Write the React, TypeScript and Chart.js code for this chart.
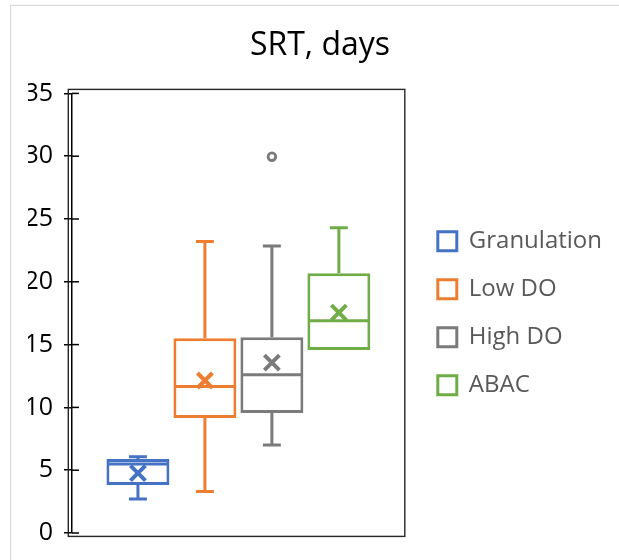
import React, { useEffect, useRef } from 'react';
import { Chart, registerables } from 'chart.js';

Chart.register(...registerables);

const titleText = 'SRT, days';
const categories = ['Granulation', 'Low DO', 'High DO', 'ABAC'];
const minValues = [2.7, 3.3, 7.0, 14.58];
const q1Values = [3.82, 9.15, 9.55, 14.58];
const medianValues = [5.5, 11.66, 12.59, 16.89];
const q3Values = [5.89, 15.5, 15.59, 20.68];
const maxValues = [6.07, 23.2, 22.85, 24.3];
const meanValues = [4.77, 12.14, 13.57, 17.55];
const outlierValues: number[][] = [[], [], [29.96], []];
const seriesColors = ['#4472C4', '#ED7D31', '#7B7B7B', '#70AD47'];
const yMin = 0;
const yMax = 35;
const yStep = 5;

const boxPlugin = {
  id: 'boxExtras',
  beforeDraw(chart: any) {
    const ctx = chart.ctx;
    ctx.save();
    ctx.fillStyle = '#ffffff';
    ctx.fillRect(0, 0, chart.width, chart.height);
    ctx.strokeStyle = '#d9d9d9';
    ctx.lineWidth = 1.2;
    ctx.strokeRect(10.6, 5.4, chart.width + 40, chart.height + 40);
    ctx.restore();
  },
  afterDatasetsDraw(chart: any) {
    const ctx = chart.ctx;
    const ys = chart.scales.y;
    chart.data.datasets.forEach((ds: any, i: number) => {
      const meta = chart.getDatasetMeta(i);
      const bar: any = meta.data[0];
      if (!bar) return;
      const x = bar.x;
      const w = bar.width;
      const color = seriesColors[i];
      const pMin = ys.getPixelForValue(minValues[i]);
      const pQ1 = ys.getPixelForValue(q1Values[i]);
      const pMed = ys.getPixelForValue(medianValues[i]);
      const pQ3 = ys.getPixelForValue(q3Values[i]);
      const pMax = ys.getPixelForValue(maxValues[i]);
      const pMean = ys.getPixelForValue(meanValues[i]);
      ctx.save();
      ctx.strokeStyle = color;
      ctx.lineWidth = 3;
      ctx.lineCap = 'butt';
      const cap = 9;
      if (maxValues[i] > q3Values[i]) {
        ctx.beginPath();
        ctx.moveTo(x, pQ3);
        ctx.lineTo(x, pMax);
        ctx.moveTo(x - cap, pMax);
        ctx.lineTo(x + cap, pMax);
        ctx.stroke();
      }
      if (minValues[i] < q1Values[i]) {
        ctx.beginPath();
        ctx.moveTo(x, pQ1);
        ctx.lineTo(x, pMin);
        ctx.moveTo(x - cap, pMin);
        ctx.lineTo(x + cap, pMin);
        ctx.stroke();
      }
      ctx.beginPath();
      ctx.moveTo(x - w / 2 + 1.5, pMed);
      ctx.lineTo(x + w / 2 - 1.5, pMed);
      ctx.stroke();
      const m = 7.5;
      ctx.lineWidth = 4;
      ctx.beginPath();
      ctx.moveTo(x - m, pMean - m);
      ctx.lineTo(x + m, pMean + m);
      ctx.moveTo(x - m, pMean + m);
      ctx.lineTo(x + m, pMean - m);
      ctx.stroke();
      ctx.lineWidth = 2.8;
      ctx.fillStyle = '#ffffff';
      outlierValues[i].forEach((v) => {
        const py = ys.getPixelForValue(v);
        ctx.beginPath();
        ctx.arc(x, py, 3.8, 0, Math.PI * 2);
        ctx.fill();
        ctx.stroke();
      });
      ctx.restore();
    });
  },
  afterDraw(chart: any) {
    const ctx = chart.ctx;
    const a = chart.chartArea;
    const ys = chart.scales.y;
    ctx.save();
    ctx.strokeStyle = '#000000';
    ctx.lineWidth = 1.5;
    ys.ticks.forEach((t: any) => {
      const py = ys.getPixelForValue(t.value);
      ctx.beginPath();
      ctx.moveTo(a.left, py);
      ctx.lineTo(a.left + 7, py);
      ctx.stroke();
    });
    ctx.strokeStyle = '#262626';
    ctx.lineWidth = 1.4;
    ctx.strokeRect(a.left - 3.7, a.top - 4, a.right - a.left + 3.7, a.bottom - a.top + 7.4);
    ctx.restore();
  },
};

export default function App() {
  const canvasRef = useRef<HTMLCanvasElement | null>(null);

  useEffect(() => {
    if (!canvasRef.current) return;
    Chart.defaults.font.family = "'Open Sans', sans-serif";
    const datasets = categories.map((name, i) => ({
      label: name,
      data: [[q1Values[i], q3Values[i]]],
      backgroundColor: '#ffffff',
      borderColor: seriesColors[i],
      borderWidth: 3,
      borderSkipped: false,
      barPercentage: 0.94,
      categoryPercentage: 0.805,
    }));
    const chart = new Chart(canvasRef.current, {
      type: 'bar',
      data: { labels: [''], datasets: datasets as any },
      options: {
        responsive: false,
        animation: false,
        devicePixelRatio: 1,
        layout: { padding: { left: 28, right: 7, top: 0, bottom: 27 } },
        plugins: {
          title: {
            display: true,
            text: titleText,
            color: '#000000',
            font: { size: 32, weight: 'normal', family: "'Open Sans', sans-serif" },
            padding: { top: 27, bottom: 28 },
          },
          legend: {
            display: true,
            position: 'right',
            align: 'center',
            fullSize: false,
            maxWidth: 320,
            labels: {
              boxWidth: 19,
              boxHeight: 19,
              padding: 24,
              color: '#595959',
              font: { size: 24, family: "'Open Sans', sans-serif" },
            },
          },
          tooltip: { enabled: false },
        },
        scales: {
          x: { display: false },
          y: {
            min: yMin,
            max: yMax,
            ticks: {
              stepSize: yStep,
              color: '#000000',
              padding: 11,
              font: { size: 25, family: "'Open Sans', sans-serif" },
            },
            grid: {
              drawOnChartArea: false,
              drawTicks: true,
              tickLength: 8,
              color: '#000000',
              lineWidth: 1.5,
            },
            border: { display: true, color: '#000000', width: 1.5 },
            afterFit: (s: any) => {
              s.width = 44;
            },
          },
          yRight: {
            type: 'linear',
            position: 'right',
            display: true,
            grid: { display: false },
            ticks: { display: false },
            border: { display: false },
            afterFit: (s: any) => {
              s.width = 9;
            },
          },
        },
      } as any,
      plugins: [boxPlugin],
    });
    return () => chart.destroy();
  }, []);

  return (
    <div style={{ position: 'absolute', left: 0, top: 0, width: 619, height: 560, background: '#ffffff' }}>
      <canvas ref={canvasRef} width={619} height={560} style={{ width: 619, height: 560, display: 'block' }} />
    </div>
  );
}
